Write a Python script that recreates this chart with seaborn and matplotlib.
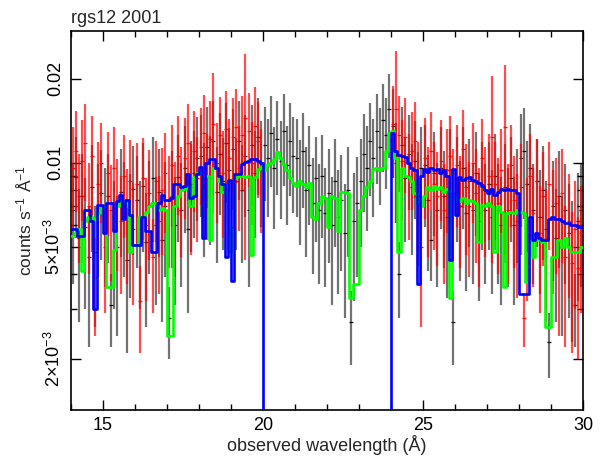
import numpy as np
import matplotlib
matplotlib.use("Agg")
import matplotlib.pyplot as plt
import seaborn as sns
from matplotlib.ticker import FixedLocator, FixedFormatter, NullFormatter

# 0.1 A bins, 14-30 A
bin_w = 0.1
wave = np.round(np.arange(14.05, 30.0, bin_w), 2)          # 160 bin centres
wave_rgs2 = np.concatenate([wave[:60], wave[100:]])         # RGS2 has no data 20-24 A

# RGS1 data (black), counts/s/A in units of 1e-3
rgs1_rate = [
    6.8, 8.9, 5.4, 7.6, 5.9, 4.6, 8.2, 4.8, 6.9, 7.8,
    6.6, 7.6, 3.1, 5.8, 5.0, 7.9, 7.0, 4.5, 6.2, 8.1,
    7.4, 5.8, 8.3, 5.2, 7.1, 8.8, 6.0, 7.9, 5.3, 7.0,
    2.8, 7.6, 6.0, 8.9, 6.8, 9.6, 5.8, 8.4, 9.2, 10.4,
    10.6, 8.2, 11.4, 8.8, 12.0, 7.9, 10.8, 8.6, 11.8, 9.4,
    11.2, 8.6, 12.0, 8.0, 10.6, 6.8, 11.6, 9.2, 12.4, 10.0,
    11.6, 10.4, 12.8, 9.6, 12.2, 10.2, 13.0, 9.8, 12.0, 10.6,
    10.4, 8.6, 11.0, 8.0, 9.8, 7.2, 8.8, 6.8, 9.0, 6.6,
    7.8, 6.0, 8.6, 6.4, 7.4, 5.6, 8.0, 2.7, 6.2, 7.2,
    8.6, 10.8, 9.6, 12.0, 10.4, 13.0, 11.4, 14.2, 12.6, 15.6,
    13.6, 10.0, 4.0, 11.6, 8.8, 10.8, 8.2, 10.2, 7.6, 9.6,
    9.8, 7.4, 5.3, 9.2, 6.8, 9.6, 7.6, 6.4, 9.4, 2.7,
    8.8, 7.0, 9.6, 6.6, 8.6, 6.8, 9.2, 6.2, 8.4, 6.8,
    8.4, 6.4, 9.0, 6.8, 6.0, 8.2, 6.6, 8.8, 6.0, 7.8,
    10.4, 11.0, 8.4, 9.6, 6.8, 8.6, 6.4, 8.0, 5.8, 2.3,
    7.0, 5.4, 7.6, 5.0, 6.8, 5.6, 4.8, 3.1, 6.2, 6.8,
]
rgs1_err = [
    3.1, 3.5, 2.7, 3.2, 2.9, 2.4, 3.4, 2.2, 3.0, 3.3,
    3.0, 3.2, 0.9, 2.8, 2.6, 3.3, 3.1, 2.4, 2.9, 3.4,
    3.2, 2.8, 3.5, 2.6, 3.1, 3.6, 2.9, 3.3, 2.6, 3.1,
    0.8, 3.4, 2.9, 3.7, 3.2, 4.0, 2.9, 3.6, 3.8, 4.2,
    4.2, 3.6, 4.5, 3.7, 4.7, 3.5, 4.3, 3.7, 4.6, 3.9,
    4.4, 3.7, 4.6, 3.6, 4.2, 3.2, 4.5, 3.8, 4.7, 4.1,
    4.3, 4.0, 4.6, 3.8, 4.5, 3.9, 4.7, 3.8, 4.4, 4.0,
    4.0, 3.5, 4.1, 3.4, 3.8, 3.2, 3.6, 3.1, 3.6, 3.0,
    3.4, 2.9, 3.6, 3.0, 3.3, 2.8, 3.4, 0.8, 3.0, 3.3,
    3.6, 4.1, 3.9, 4.4, 4.0, 4.6, 4.3, 4.9, 4.5, 5.2,
    4.8, 3.9, 1.2, 4.2, 3.6, 4.0, 3.5, 3.9, 3.3, 3.8,
    3.9, 3.3, 1.5, 3.7, 3.2, 3.8, 3.4, 3.1, 3.8, 0.8,
    3.6, 3.2, 3.8, 3.1, 3.6, 3.1, 3.7, 3.0, 3.5, 3.1,
    3.5, 3.0, 3.7, 3.1, 2.9, 3.5, 3.0, 3.6, 2.9, 3.4,
    4.5, 4.7, 3.6, 4.2, 3.1, 3.6, 3.0, 3.5, 2.8, 0.6,
    3.2, 2.7, 3.4, 2.6, 3.1, 2.8, 2.5, 0.9, 3.0, 3.2,
]

# RGS2 data (red), 14-20 A then 24-30 A
rgs2_rate = [
    9.6, 11.0, 7.6, 10.2, 11.8, 7.0, 10.6, 3.9, 8.4, 10.0,
    5.0, 9.2, 6.8, 9.6, 7.2, 6.2, 9.0, 6.6, 8.6, 5.8,
    8.4, 3.2, 8.8, 6.0, 7.8, 4.6, 8.6, 6.2, 8.0, 9.2,
    7.4, 9.8, 7.0, 10.6, 8.0, 10.4, 11.8, 8.2, 11.0, 8.8,
    11.4, 12.8, 9.0, 12.2, 13.8, 10.0, 12.6, 9.2, 13.2, 10.4,
    12.4, 13.4, 9.6, 12.6, 14.5, 13.0, 10.0, 13.6, 12.0, 9.4,
    13.8, 15.6, 12.6, 10.2, 12.4, 9.0, 11.0, 12.0, 8.4, 5.0,
    10.4, 8.0, 11.0, 8.4, 7.6, 10.2, 6.8, 9.4, 10.6, 7.8,
    9.8, 7.4, 11.2, 8.2, 7.0, 10.0, 7.8, 6.6, 10.4, 8.0,
    9.0, 12.4, 8.4, 7.2, 9.4, 13.4, 6.8, 9.8, 7.4, 6.2,
    8.2, 2.8, 6.0, 9.0, 6.6, 8.6, 5.6, 7.6, 5.4, 8.4,
    6.4, 7.2, 5.0, 7.8, 4.6, 6.2, 4.4, 5.8, 4.2, 5.6,
]
rgs2_err = [
    3.8, 4.3, 3.2, 4.0, 4.5, 3.0, 4.1, 1.5, 3.5, 3.9,
    2.1, 3.7, 3.0, 3.8, 3.1, 2.8, 3.6, 2.9, 3.5, 2.7,
    3.4, 1.1, 3.5, 2.8, 3.3, 1.7, 3.4, 2.8, 3.3, 3.6,
    3.2, 3.9, 3.1, 4.1, 3.4, 4.1, 4.5, 3.5, 4.3, 3.6,
    4.3, 4.7, 3.7, 4.5, 7.2, 3.9, 4.6, 3.8, 4.8, 4.0,
    4.6, 4.9, 3.9, 4.7, 10.0, 4.8, 4.0, 5.0, 4.5, 3.8,
    5.0, 9.5, 4.7, 4.0, 4.6, 3.7, 4.2, 4.5, 3.5, 2.4,
    4.1, 3.4, 4.2, 3.5, 3.3, 4.0, 3.1, 3.8, 4.1, 3.4,
    3.9, 3.2, 4.3, 3.5, 3.1, 3.9, 3.4, 3.0, 4.0, 3.4,
    3.7, 8.0, 3.5, 3.2, 3.8, 9.0, 3.1, 3.9, 3.2, 2.9,
    3.5, 0.6, 2.8, 3.7, 3.0, 3.6, 2.7, 3.3, 2.7, 3.5,
    3.0, 3.2, 2.6, 3.4, 2.4, 2.9, 2.3, 2.8, 2.2, 2.7,
]

# folded models (steps), same bins
rgs1_model = [
    5.5, 5.6, 5.8, 4.1, 6.2, 6.4, 6.4, 6.3, 6.6, 6.9,
    7.0, 3.6, 3.6, 4.9, 7.0, 7.3, 7.4, 7.2, 4.8, 5.1,
    5.1, 6.4, 6.4, 6.7, 7.0, 7.2, 7.2, 6.8, 6.9, 6.8,
    2.4, 2.4, 7.0, 7.6, 8.0, 8.1, 8.3, 7.0, 8.9, 9.2,
    9.3, 9.0, 9.0, 5.3, 9.6, 9.6, 8.6, 7.9, 7.8, 4.8,
    5.9, 8.8, 9.0, 9.0, 8.9, 9.0, 4.7, 8.9, 9.5, 9.7,
    9.4, 9.8, 10.0, 10.3, 10.9, 10.4, 9.9, 9.4, 8.8, 8.5,
    8.3, 8.6, 8.4, 8.2, 8.5, 6.4, 6.3, 7.2, 7.6, 7.5,
    5.9, 7.6, 7.5, 5.7, 7.9, 7.9, 7.8, 3.3, 3.7, 3.7,
    6.8, 7.6, 8.2, 8.6, 9.5, 9.6, 9.4, 9.6, 11.0, 12.8,
    13.0, 10.4, 4.8, 9.6, 9.0, 8.9, 8.6, 7.8, 7.2, 7.0,
    7.6, 8.2, 8.0, 8.3, 8.1, 8.2, 7.9, 8.1, 3.3, 7.6,
    7.4, 7.3, 7.5, 7.2, 7.4, 7.3, 7.2, 5.2, 7.1, 7.0,
    7.2, 7.0, 4.8, 7.0, 6.7, 3.6, 6.6, 6.7, 6.6, 6.8,
    6.7, 6.6, 3.75, 5.2, 4.6, 5.3, 5.4, 5.2, 2.6, 2.6,
    4.6, 4.6, 5.3, 5.0, 5.4, 5.0, 4.8, 4.8, 4.8, 5.0,
]
# RGS2 model: 14-20 A, zero in the chip gap 20-24 A, then 24-30 A
rgs2_model = [
    5.8, 5.8, 5.5, 5.5, 6.8, 6.8, 6.2, 3.0, 7.1, 7.1,
    5.6, 7.2, 7.2, 5.7, 7.3, 7.7, 6.3, 7.4, 6.5, 5.1,
    5.1, 5.1, 6.4, 5.7, 5.7, 4.8, 4.8, 7.2, 7.7, 7.4,
    7.4, 7.5, 8.4, 8.4, 8.2, 8.3, 9.1, 7.5, 7.6, 9.1,
    9.7, 5.4, 10.0, 10.3, 10.3, 9.6, 9.0, 8.4, 4.6, 8.7,
    3.8, 9.1, 9.1, 9.9, 10.1, 10.2, 10.3, 10.3, 10.2, 10.0,
    0.0,
    12.8, 11.0, 10.7, 10.6, 10.5, 10.0, 9.6, 9.4, 3.7, 9.0,
    9.5, 9.3, 9.6, 9.4, 9.5, 9.2, 9.4, 9.0, 4.5, 9.5,
    6.5, 8.9, 8.7, 8.8, 8.9, 8.7, 8.6, 8.5, 8.3, 8.0,
    7.8, 8.1, 7.7, 7.9, 8.1, 8.0, 8.1, 8.0, 8.0, 7.8,
    3.4, 3.4, 3.4, 6.4, 5.3, 5.6, 5.4, 5.3, 5.3, 6.3,
    6.4, 6.3, 6.3, 6.2, 6.1, 6.1, 6.0, 6.0, 5.9, 5.9,
]

scale = 1e-3
rgs1_rate = np.array(rgs1_rate) * scale
rgs1_err = np.array(rgs1_err) * scale
rgs2_rate = np.array(rgs2_rate) * scale
rgs2_err = np.array(rgs2_err) * scale
rgs1_model = np.array(rgs1_model) * scale
rgs2_model = np.array(rgs2_model) * scale

edges_all = np.round(np.arange(14.0, 30.001, bin_w), 2)
edges_rgs2 = np.concatenate([edges_all[:61], edges_all[100:]])

sns.set_theme(style="ticks")
plt.rcParams["font.family"] = ["Liberation Sans", "DejaVu Sans"]
plt.rcParams["mathtext.fontset"] = "custom"
plt.rcParams["mathtext.rm"] = "Liberation Sans"
plt.rcParams["mathtext.it"] = "Liberation Sans"

fig = plt.figure(figsize=(6.01, 4.57), dpi=100)
ax = fig.add_axes([71 / 601, 47 / 457, 512 / 601, 379 / 457])
ax.set_yscale("log")

# data: translucent y error bars, thin bin-width ticks
for x, y, e, c, a, z in [(wave, rgs1_rate, rgs1_err, "black", 0.55, 2),
                         (wave_rgs2, rgs2_rate, rgs2_err, "red", 0.7, 3)]:
    ax.errorbar(x, y, yerr=e, fmt="none", ecolor=c, elinewidth=1.6,
                alpha=a, capsize=0, zorder=z)
    ax.errorbar(x, y, xerr=0.06, fmt="none", ecolor=c, elinewidth=0.9,
                alpha=0.9, capsize=0, zorder=z)

# models as steps
sns.lineplot(x=edges_all, y=np.append(rgs1_model, rgs1_model[-1]), ax=ax,
             drawstyle="steps-post", color="#00ff00", lw=1.9,
             estimator=None, sort=False, zorder=4)
sns.lineplot(x=edges_rgs2, y=np.append(rgs2_model, rgs2_model[-1]), ax=ax,
             drawstyle="steps-post", color="#0000ff", lw=1.9,
             estimator=None, sort=False, zorder=5)

ax.set_xlim(14, 30)
ax.set_ylim(1.31e-3, 0.0296)

ax.xaxis.set_major_locator(FixedLocator([15, 20, 25, 30]))
ax.xaxis.set_minor_locator(FixedLocator(np.arange(14, 31, 1)))
ax.yaxis.set_major_locator(FixedLocator([2e-3, 5e-3, 0.01, 0.02]))
ax.yaxis.set_major_formatter(FixedFormatter(
    [r"$\mathregular{2{\times}10^{-3}}$", r"$\mathregular{5{\times}10^{-3}}$", "0.01", "0.02"]))
ax.yaxis.set_minor_locator(FixedLocator(
    [3e-3, 4e-3, 6e-3, 7e-3, 8e-3, 9e-3, 0.03]))
ax.yaxis.set_minor_formatter(NullFormatter())

ax.tick_params(which="both", direction="in", top=True, right=True,
               colors="black", labelsize=13, width=1.0)
ax.tick_params(which="major", length=7, pad=5)
ax.tick_params(which="minor", length=4)
for lab in ax.get_yticklabels():
    lab.set_rotation(90)
    lab.set_va("center")
for sp in ax.spines.values():
    sp.set_linewidth(1.2)
    sp.set_color("black")

ax.set_xlabel("observed wavelength (Å)", fontsize=13, labelpad=1)
ax.set_ylabel(r"counts s$^{-1}$ Å$^{-1}$", fontsize=12.5, labelpad=7)
ax.set_title("rgs12 2001", loc="left", fontsize=13, pad=6)

fig.savefig("out.png", dpi=100)
